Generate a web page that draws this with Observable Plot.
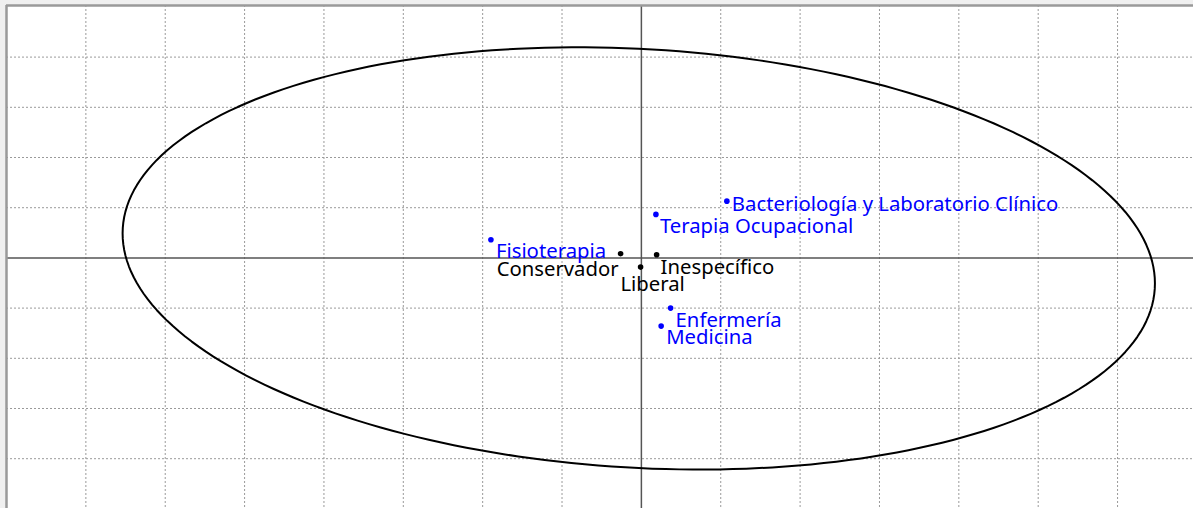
<!DOCTYPE html>
<html>
<head>
<meta charset="utf-8">
<script src="https://cdn.jsdelivr.net/npm/d3@7"></script>
<script src="https://cdn.jsdelivr.net/npm/@observablehq/plot@0.6"></script>
<style>
  html, body { margin: 0; padding: 0; background: #f0f0f0; }
  #chart svg { display: block; }
</style>
</head>
<body>
<div id="chart"></div>
<script>
// Row points (carreras)
const careerNames = ["Bacteriología y Laboratorio Clínico", "Terapia Ocupacional", "Fisioterapia", "Enfermería", "Medicina"];
const careerX = [0.1077, 0.0183, -0.1896, 0.0368, 0.0249];
const careerY = [0.1131, 0.0867, 0.0363, -0.1000, -0.1359];

// Column points (orientación)
const orientNames = ["Conservador", "Inespecífico", "Liberal"];
const orientX = [-0.0262, 0.0192, -0.0010];
const orientY = [0.0084, 0.0064, -0.0183];

// Grid ticks
const xTicks = [-0.7, -0.6, -0.5, -0.4, -0.3, -0.2, -0.1, 0.1, 0.2, 0.3, 0.4, 0.5, 0.6];
const yTicks = [-0.4, -0.3, -0.2, -0.1, 0.1, 0.2, 0.3, 0.4];

// Ellipse parameters: center, half-extents along x and y, correlation
const ellipseCenter = [-0.0033, -0.001];
const ellipseHalf = [0.6504, 0.4206];
const ellipseRho = [-0.1184];

const careers = careerNames.map((n, i) => ({name: n, x: careerX[i], y: careerY[i]}));
const orients = orientNames.map((n, i) => ({name: n, x: orientX[i], y: orientY[i]}));

const N = 240;
const ellipse = d3.range(N + 1).map(k => {
  const t = 2 * Math.PI * k / N;
  const r = ellipseRho[0];
  return {
    x: ellipseCenter[0] + ellipseHalf[0] * Math.cos(t),
    y: ellipseCenter[1] + ellipseHalf[1] * (r * Math.cos(t) + Math.sqrt(1 - r * r) * Math.sin(t))
  };
});

const labelOpts = {
  "Bacteriología y Laboratorio Clínico": {textAnchor: "start", dx: 5, dy: 3},
  "Terapia Ocupacional": {textAnchor: "start", dx: 4, dy: 12},
  "Fisioterapia": {textAnchor: "start", dx: 5, dy: 12},
  "Enfermería": {textAnchor: "start", dx: 5, dy: 12},
  "Medicina": {textAnchor: "start", dx: 5, dy: 11},
  "Conservador": {textAnchor: "end", dx: -2, dy: 16},
  "Inespecífico": {textAnchor: "start", dx: 4, dy: 13},
  "Liberal": {textAnchor: "middle", dx: 12, dy: 17}
};
const font = {fontFamily: "'Noto Sans', sans-serif", fontSize: 20.3};
const labelMarks = (rows, color) => rows.map(d => Plot.text([d], {
  x: "x", y: "y", text: "name", fill: color, ...font, ...labelOpts[d.name]
}));

const chart = Plot.plot({
  width: 1193,
  height: 508,
  marginLeft: 6,
  marginTop: 5,
  marginRight: 0,
  marginBottom: 0,
  x: {domain: [-0.8, 0.6957], axis: null},
  y: {domain: [-0.4992, 0.5028], axis: null},
  style: {background: "transparent"},
  marks: [
    Plot.frame({fill: "white", stroke: null}),
    Plot.ruleX(xTicks, {stroke: "#9a9a9a", strokeDasharray: "2,2", strokeWidth: 1}),
    Plot.ruleY(yTicks, {stroke: "#9a9a9a", strokeDasharray: "2,2", strokeWidth: 1}),
    Plot.ruleX([0], {stroke: "#555", strokeWidth: 1.5}),
    Plot.ruleY([0], {stroke: "#555", strokeWidth: 1.5}),
    Plot.ruleX([-0.8], {stroke: "#9a9a9a", strokeWidth: 2.5}),
    Plot.ruleY([0.5028], {stroke: "#9a9a9a", strokeWidth: 2.5}),
    Plot.line(ellipse, {x: "x", y: "y", stroke: "black", strokeWidth: 2, curve: "linear"}),
    Plot.dot(careers, {x: "x", y: "y", r: 2.8, fill: "blue"}),
    Plot.dot(orients, {x: "x", y: "y", r: 2.8, fill: "black"}),
    ...labelMarks(careers, "blue"),
    ...labelMarks(orients, "black")
  ]
});
document.getElementById("chart").appendChild(chart);
</script>
</body>
</html>
